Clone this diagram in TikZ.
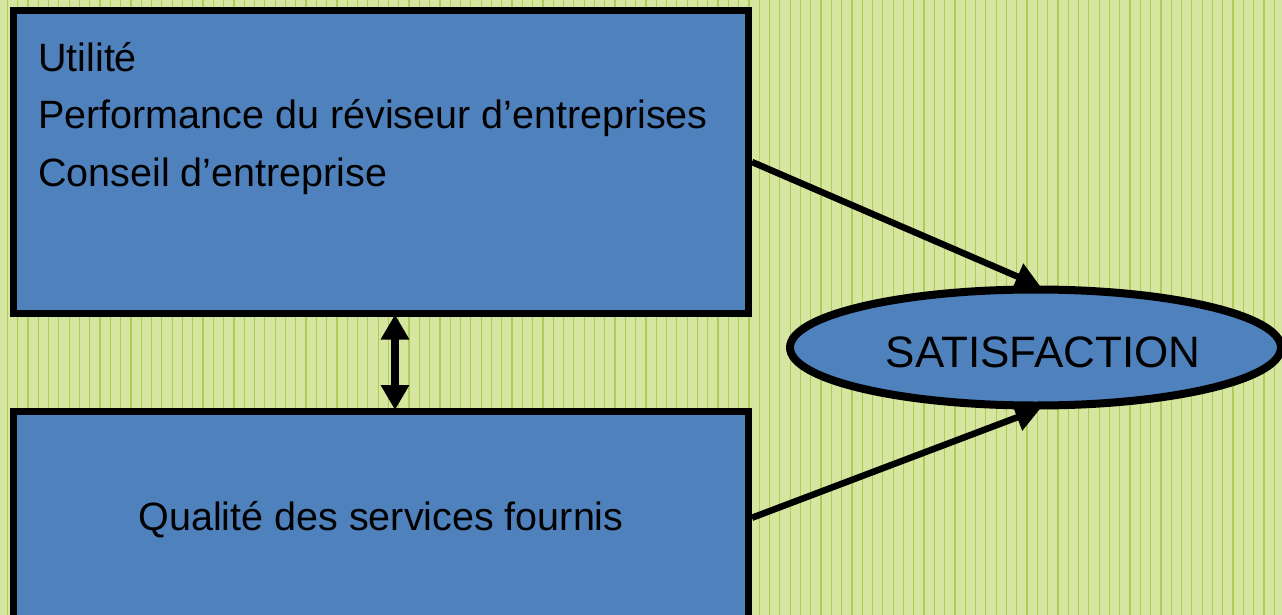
\documentclass[tikz,border=0pt]{standalone}
\usepackage{fontspec}
\setmainfont{Liberation Sans}
\usetikzlibrary{shapes.geometric,arrows.meta}
\definecolor{bggreen}{RGB}{214,230,160}
\definecolor{bgline}{RGB}{170,206,88}
\definecolor{boxblue}{RGB}{79,129,189}
\tikzset{
  bluebox/.style={draw=black,line width=7pt,fill=boxblue,rectangle,inner sep=0pt},
  blueell/.style={draw=black,line width=8pt,fill=boxblue,ellipse,inner sep=0pt},
  txt/.style={inner sep=0pt,font=\fontsize{39.5}{57}\selectfont},
  bigtxt/.style={inner sep=0pt,font=\fontsize{44}{50}\selectfont},
  conn/.style={line width=6.5pt,-{Triangle[length=25pt,width=27pt]}},
  dconn/.style={line width=7.5pt,{Triangle[length=25pt,width=27pt]}-{Triangle[length=25pt,width=27pt]}}
}
\begin{document}
\begin{tikzpicture}[x=1pt,y=-1pt]
\useasboundingbox (0,0) rectangle (1282,615);
\fill[bggreen] (0,0) rectangle (1282,615);
\foreach \i in {0,...,124}{
  \draw[bgline,line width=1.2pt] ({7.3+10.3*\i},0) -- ({7.3+10.3*\i},615);
}
\node[bluebox,minimum width=735pt,minimum height=302pt] (box1) at (381,162) {};
\node[bluebox,minimum width=735pt,minimum height=208.5pt] (box2) at (381,515.75) {};
\node[blueell,minimum width=491pt,minimum height=116pt] (ell) at (1035.5,347.5) {};
\node[txt,anchor=base west] (l1) at (38,72) {Utilité};
\node[txt,anchor=base west] (l2) at (38,129) {Performance du réviseur d’entreprises};
\node[txt,anchor=base west] (l3) at (38,186) {Conseil d’entreprise};
\node[txt,anchor=base] (q) at (381,530) {Qualité des services fournis};
\node[bigtxt,anchor=base] (sat) at (1043,367) {SATISFACTION};
\draw[conn] (box1.east) -- ([xshift=5pt,yshift=-1pt]ell.north);
\draw[conn] ([yshift=-2pt]box2.east) -- ([xshift=5pt,yshift=1pt]ell.south);
\draw[dconn] ([xshift=14pt,yshift=2pt]box1.south) -- ([xshift=14pt,yshift=-2pt]box2.north);
\end{tikzpicture}
\end{document}
